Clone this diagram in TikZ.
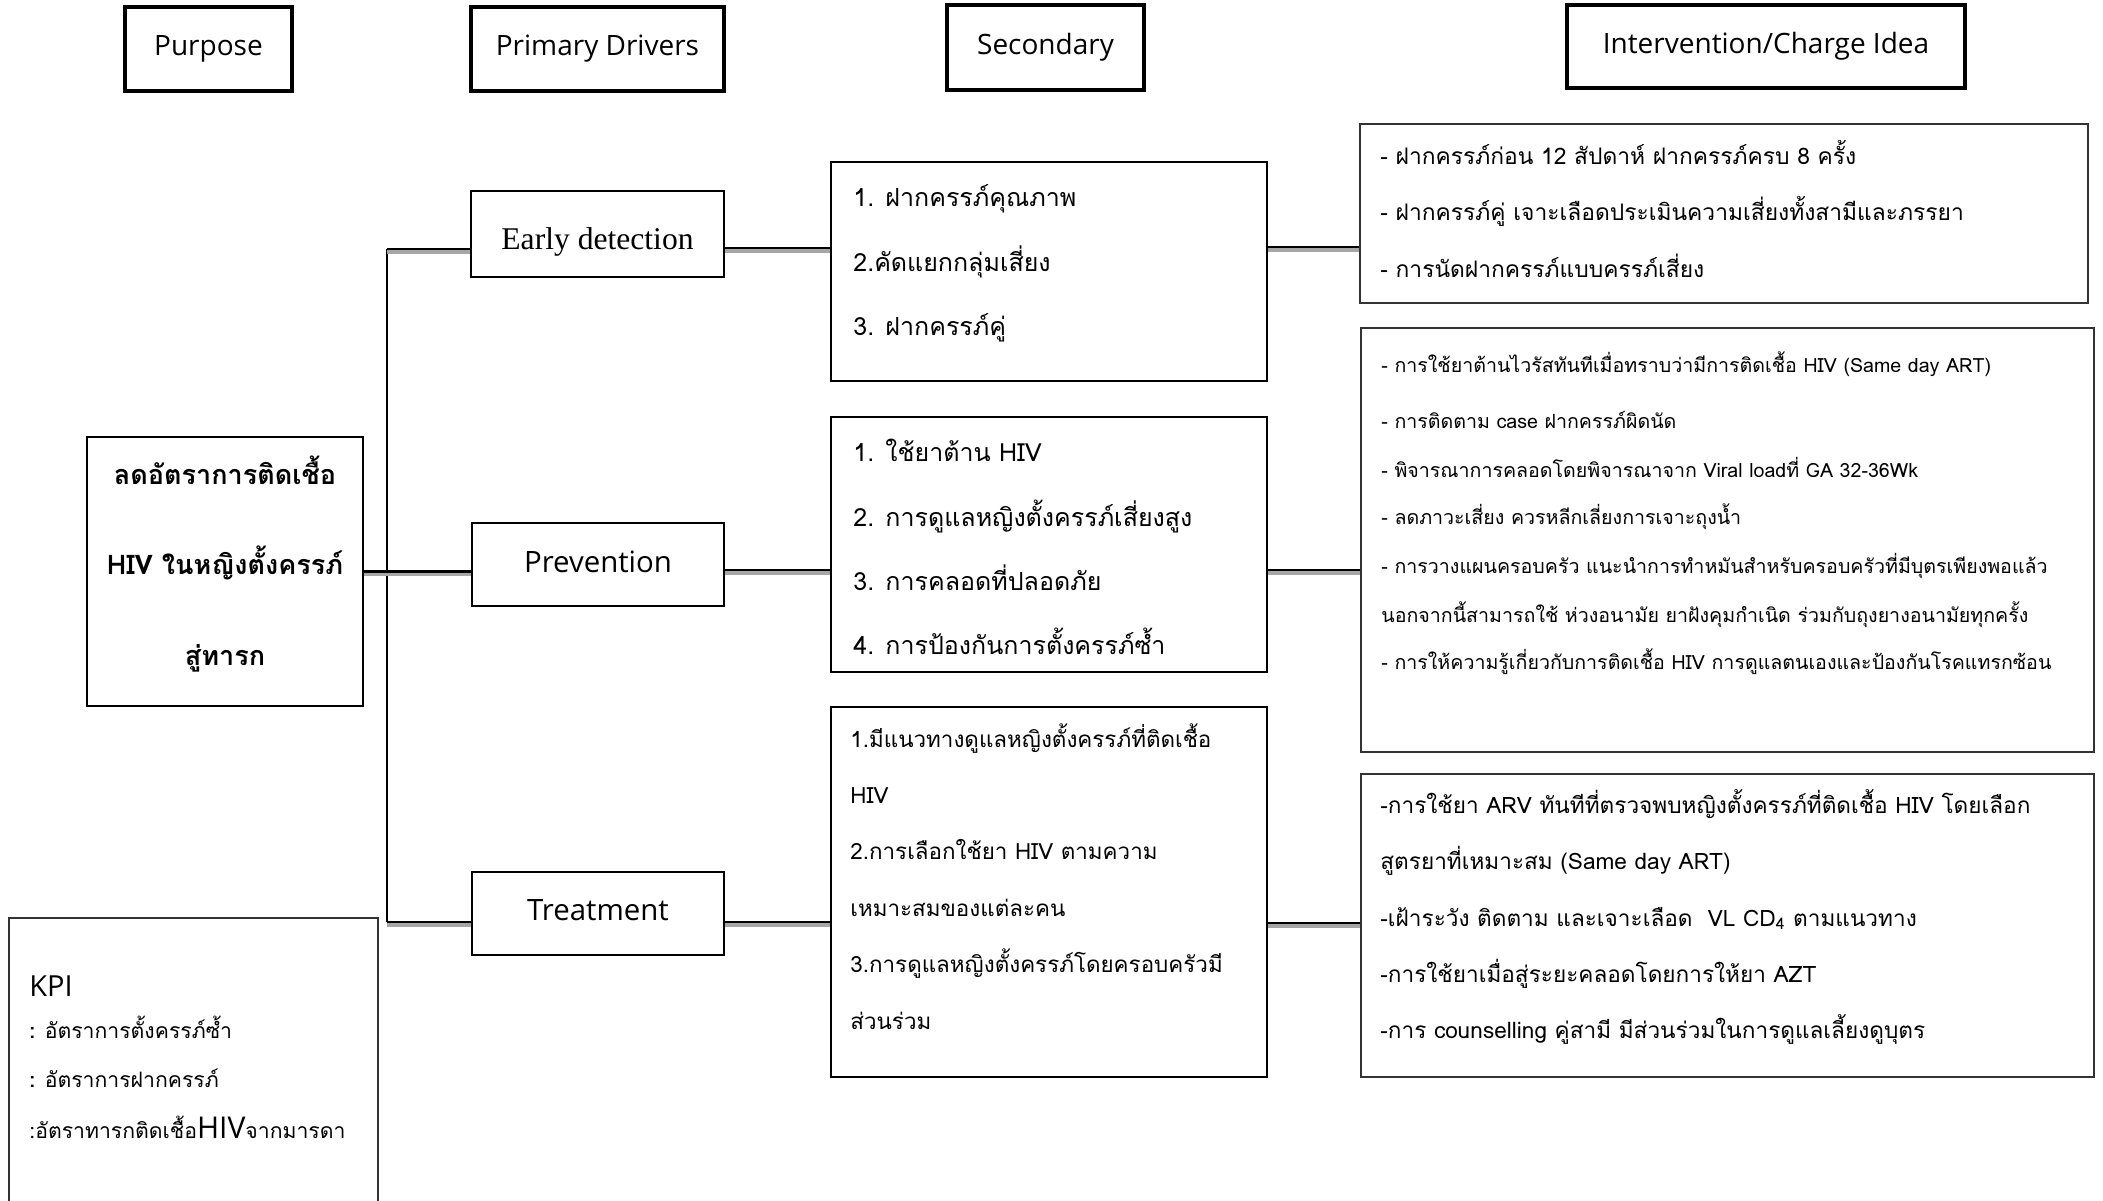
\documentclass[tikz,border=0pt]{standalone}
\usepackage{fontspec}
\setmainfont{Open Sans}
\newfontfamily\thai[Script=Thai]{Loma}
\newfontfamily\serifE{Liberation Serif}
\usetikzlibrary{calc}
\begin{document}
\begin{tikzpicture}[x=0.5pt,y=-0.5pt,
 hdr/.style={draw, line width=2.2pt, inner sep=0, font=\fontsize{14}{16}\selectfont},
 drv/.style={draw, line width=1.4pt, inner sep=0},
 drvtext/.style={inner sep=0, font=\fontsize{14.7}{16}\selectfont},
 secbox/.style={draw, line width=1.4pt, inner sep=0},
 intbox/.style={draw=black!80, line width=1pt, inner sep=0},
 conn/.style={line width=1.1pt, preaction={draw=black!35, line width=1.6pt, transform canvas={yshift=-1.5pt}}},
 ln/.style={anchor=base west, inner sep=0},
 tA/.style={ln, font=\thai\fontsize{12.5}{14}\selectfont},
 tB/.style={ln, font=\thai\fontsize{11.2}{13}\selectfont},
 tC/.style={ln, font=\thai\fontsize{11.4}{13}\selectfont},
 tD/.style={ln, font=\thai\fontsize{9.8}{11}\selectfont},
 tE/.style={ln, font=\thai\fontsize{11.3}{13}\selectfont},
 tK/.style={ln, font=\thai\fontsize{10.6}{12}\selectfont},
]
\useasboundingbox (0,0) rectangle (2103,1200);
% headers
\node[hdr, minimum width=83.5pt, minimum height=42pt] (purposeH) at (208.5,49) {Purpose};
\node[hdr, minimum width=126.5pt, minimum height=42pt] (primH) at (597.5,49) {Primary Drivers};
\node[hdr, minimum width=98.5pt, minimum height=42.5pt] (secH) at (1045.5,47.5) {Secondary};
\node[hdr, minimum width=199pt, minimum height=41.5pt] (intH) at (1766,46.5) {Intervention/Charge Idea};
% purpose
\node[draw, line width=1.2pt, minimum width=138pt, minimum height=134.5pt, inner sep=0] (main) at (225,571.5) {};
\node[anchor=base, inner sep=0, font=\thai\bfseries\fontsize{13.5}{15}\selectfont] (m1) at (225,484) {ลดอัตราการติดเชื้อ};
\node[anchor=base, inner sep=0, font=\thai\bfseries\fontsize{13.5}{15}\selectfont] (m2) at (225,574) {HIV ในหญิงตั้งครรภ์};
\node[anchor=base, inner sep=0, font=\thai\bfseries\fontsize{13.5}{15}\selectfont] (m3) at (225,665) {สู่ทารก};
% drivers
\node[drv, minimum width=126.5pt, minimum height=43pt] (ed) at (597.5,234) {};
\node[inner sep=0, font=\serifE\fontsize{15.8}{17}\selectfont] (edt) at (597.5,242) {Early detection};
\node[drv, minimum width=126pt, minimum height=41.5pt] (prev) at (598,564.5) {};
\node[drvtext] (prevt) at (598,562) {Prevention};
\node[drv, minimum width=126pt, minimum height=41.5pt] (treat) at (598,913.5) {};
\node[drvtext] (treatt) at (598,910) {Treatment};
% secondary
\node[secbox, minimum width=218pt, minimum height=109.5pt] (s1) at (1049,271.5) {};
\node[tA] (s1a) at (853,206) {1. ฝากครรภ์คุณภาพ};
\node[tA] (s1b) at (853,271) {2.คัดแยกกลุ่มเสี่ยง};
\node[tA] (s1c) at (853,335) {3. ฝากครรภ์คู่};
\node[secbox, minimum width=218pt, minimum height=127.5pt] (s2) at (1049,544.5) {};
\node[tA] (s2a) at (853,461) {1. ใช้ยาต้าน HIV};
\node[tA] (s2b) at (853,526) {2. การดูแลหญิงตั้งครรภ์เสี่ยงสูง};
\node[tA] (s2c) at (853,590) {3. การคลอดที่ปลอดภัย};
\node[tA] (s2d) at (853,654) {4. การป้องกันการตั้งครรภ์ซ้ำ};
\node[draw, line width=1pt, inner sep=0, minimum width=218pt, minimum height=185pt] (s3) at (1049,892) {};
\node[tB] (s3a) at (850,747) {1.มีแนวทางดูแลหญิงตั้งครรภ์ที่ติดเชื้อ};
\node[tB] (s3b) at (850,803) {HIV};
\node[tB] (s3c) at (850,859) {2.การเลือกใช้ยา HIV ตามความ};
\node[tB] (s3d) at (850,916) {เหมาะสมของแต่ละคน};
\node[tB] (s3e) at (850,972) {3.การดูแลหญิงตั้งครรภ์โดยครอบครัวมี};
\node[tB] (s3f) at (850,1029) {ส่วนร่วม};
% interventions
\node[intbox, minimum width=364pt, minimum height=89.5pt] (i1) at (1724,213.5) {};
\node[tC] (i1a) at (1380,164) {- ฝากครรภ์ก่อน 12 สัปดาห์ ฝากครรภ์ครบ 8 ครั้ง};
\node[tC] (i1b) at (1380,220) {- ฝากครรภ์คู่ เจาะเลือดประเมินความเสี่ยงทั้งสามีและภรรยา};
\node[tC] (i1c) at (1380,277) {- การนัดฝากครรภ์แบบครรภ์เสี่ยง};
\node[intbox, minimum width=366.5pt, minimum height=212pt] (i2) at (1727.5,540) {};
\node[tD] (i2a) at (1381,372) {- การใช้ยาต้านไวรัสทันทีเมื่อทราบว่ามีการติดเชื้อ HIV (Same day ART)};
\node[tD] (i2b) at (1381,428) {- การติดตาม case ฝากครรภ์ผิดนัด};
\node[tD] (i2c) at (1381,477) {- พิจารณาการคลอดโดยพิจารณาจาก Viral loadที่ GA 32-36Wk};
\node[tD] (i2d) at (1381,524) {- ลดภาวะเสี่ยง ควรหลีกเลี่ยงการเจาะถุงน้ำ};
\node[tD] (i2e) at (1381,573) {- การวางแผนครอบครัว แนะนำการทำหมันสำหรับครอบครัวที่มีบุตรเพียงพอแล้ว};
\node[tD] (i2f) at (1381,622) {นอกจากนี้สามารถใช้ ห่วงอนามัย ยาฝังคุมกำเนิด ร่วมกับถุงยางอนามัยทุกครั้ง};
\node[tD] (i2g) at (1381,669) {- การให้ความรู้เกี่ยวกับการติดเชื้อ HIV การดูแลตนเองและป้องกันโรคแทรกซ้อน};
\node[intbox, minimum width=366.5pt, minimum height=151.5pt] (i3) at (1727.5,925.5) {};
\node[tE] (i3a) at (1380,813) {-การใช้ยา ARV ทันทีที่ตรวจพบหญิงตั้งครรภ์ที่ติดเชื้อ HIV โดยเลือก};
\node[tE] (i3b) at (1380,869) {สูตรยาที่เหมาะสม (Same day ART)};
\node[tE] (i3c) at (1380,926) {-เฝ้าระวัง ติดตาม และเจาะเลือด\ \ VL CD\textsubscript{4} ตามแนวทาง};
\node[tE] (i3d) at (1380,982) {-การใช้ยาเมื่อสู่ระยะคลอดโดยการให้ยา AZT};
\node[tE] (i3e) at (1380,1038) {-การ counselling คู่สามี มีส่วนร่วมในการดูแลเลี้ยงดูบุตร};
% KPI
\draw[line width=0.8pt, draw=black!80] (9,1205) -- (9,918) -- (378,918) -- (378,1205);
\node[ln, font=\fontsize{14.5}{16}\selectfont] (kpi) at (29,996) {KPI};
\node[tK] (k1) at (29,1038) {{\bfseries :} อัตราการตั้งครรภ์ซ้ำ};
\node[tK] (k2) at (29,1087) {{\bfseries :} อัตราการฝากครรภ์};
\node[tK] (k3) at (29,1138) {:อัตราทารกติดเชื้อ{\rmfamily\fontsize{15}{16}\selectfont HIV}จากมารดา};
% connectors
\coordinate (ttop) at (387,249);
\coordinate (tbot) at (387,922);
\draw[line width=1.1pt] (ttop) -- (tbot);
\draw[conn] (ttop) -- (ttop -| ed.west);
\draw[conn] ([yshift=-7pt]ed.east) -- ([yshift=-7pt]ed.east -| s1.west);
\draw[conn] ([yshift=12.25pt]s1.east) -- ([yshift=12.25pt]s1.east -| i1.west);
\draw[conn] (main.east) -- (main.east -| prev.west);
\draw[conn] ([yshift=-2.75pt]prev.east) -- ([yshift=-2.75pt]prev.east -| s2.west);
\draw[conn] ([yshift=-12.75pt]s2.east) -- ([yshift=-12.75pt]s2.east -| i2.west);
\draw[conn] (tbot) -- (tbot -| treat.west);
\draw[conn] ([yshift=-4.25pt]treat.east) -- ([yshift=-4.25pt]treat.east -| s3.west);
\draw[conn] ([yshift=-15.5pt]s3.east) -- ([yshift=-15.5pt]s3.east -| i3.west);
\end{tikzpicture}
\end{document}
